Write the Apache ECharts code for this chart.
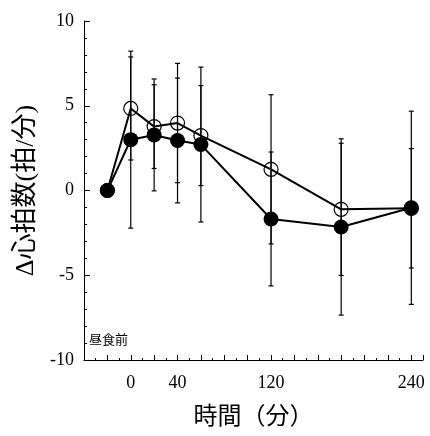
<!DOCTYPE html>
<html>
<head>
<meta charset="utf-8">
<script src="https://cdn.jsdelivr.net/npm/echarts@6/dist/echarts.min.js"></script>
<style>
  html, body { margin: 0; padding: 0; background: #fff; }
  #main { width: 430px; height: 436px; }
</style>
</head>
<body>
<div id="main"></div>
<script>
// time after lunch (min), -20 = before lunch
var times = [-20, 0, 20, 40, 60, 120, 180, 240];
// filled circles
var filledMean = [0, 3.0, 3.28, 2.95, 2.71, -1.68, -2.15, -1.02];
var filledSd = [null, 5.22, 3.3, 3.68, 4.57, 3.95, 5.2, 5.7];
// open circles
var openMean = [0, 4.84, 3.77, 3.98, 3.24, 1.25, -1.11, -1.05];
var openSd = [null, 3.04, 2.47, 3.52, 2.95, 4.4, 3.9, 3.52];
var xLabels = [0, 40, 120, 240];

window.onload = function() {
  var chart = echarts.init(document.getElementById('main'));

  function pairs(mean) {
    return times.map(function(t, i) { return [t, mean[i]]; });
  }
  function bars(mean, sd) {
    var out = [];
    times.forEach(function(t, i) {
      if (sd[i] != null) out.push([t, mean[i] - sd[i], mean[i] + sd[i]]);
    });
    return out;
  }
  function errorBar(params, api) {
    var x = api.value(0);
    var top = api.coord([x, api.value(2)]);
    var bot = api.coord([x, api.value(1)]);
    var w = 2.5;
    var st = { stroke: '#000', lineWidth: 1.2 };
    return {
      type: 'group',
      children: [
        { type: 'line', shape: { x1: top[0], y1: top[1], x2: bot[0], y2: bot[1] }, style: st },
        { type: 'line', shape: { x1: top[0] - w, y1: top[1], x2: top[0] + w, y2: top[1] }, style: st },
        { type: 'line', shape: { x1: bot[0] - w, y1: bot[1], x2: bot[0] + w, y2: bot[1] }, style: st }
      ]
    };
  }

  var op = {
    animation: false,
    grid: {
      left: 84,
      right: 7,
      top: 21,
      bottom: 76
    },
    xAxis: {
      type: 'value',
      min: -40,
      max: 250,
      interval: 20,
      name: '時間（分）',
      nameLocation: 'middle',
      nameGap: 43,
      nameTextStyle: {
        fontFamily: 'Noto Sans CJK JP',
        fontSize: 24,
        color: '#000'
      },
      axisLine: { onZero: false, lineStyle: { color: '#000', width: 1 } },
      axisTick: { inside: true, length: 5, lineStyle: { color: '#000' } },
      minorTick: { show: true, splitNumber: 2, length: 2, lineStyle: { color: '#000' } },
      splitLine: { show: false },
      axisLabel: {
        margin: 14,
        fontFamily: 'Liberation Serif',
        fontSize: 18,
        color: '#000',
        formatter: function(v) {
          return xLabels.indexOf(v) >= 0 ? String(v) : '';
        }
      }
    },
    yAxis: {
      type: 'value',
      min: -10,
      max: 10,
      interval: 5,
      name: 'Δ心拍数(拍/分)',
      nameLocation: 'middle',
      nameGap: 45,
      nameTextStyle: {
        fontFamily: "'Liberation Serif', 'Noto Sans CJK JP'",
        fontSize: 26,
        color: '#000'
      },
      axisLine: { show: true, onZero: false, lineStyle: { color: '#000', width: 1 } },
      axisTick: { show: true, inside: true, length: 6, lineStyle: { color: '#000' } },
      minorTick: { show: true, splitNumber: 5, length: 3, lineStyle: { color: '#000' } },
      splitLine: { show: false },
      axisLabel: {
        margin: 10,
        fontFamily: 'Liberation Serif',
        fontSize: 18,
        color: '#000'
      }
    },
    graphic: [{
      type: 'text',
      left: 89,
      top: 333,
      style: {
        text: '昼食前',
        fontFamily: 'Noto Sans CJK JP',
        fontSize: 13,
        fill: '#000'
      }
    }],
    series: [{
      type: 'custom',
      renderItem: errorBar,
      encode: { x: 0, y: [1, 2] },
      data: bars(filledMean, filledSd),
      z: 1
    }, {
      type: 'custom',
      renderItem: errorBar,
      encode: { x: 0, y: [1, 2] },
      data: bars(openMean, openSd),
      z: 1
    }, {
      name: 'open',
      type: 'line',
      data: pairs(openMean),
      symbol: 'circle',
      symbolSize: 14,
      lineStyle: { color: '#000', width: 2 },
      itemStyle: { color: 'rgba(0,0,0,0)', borderColor: '#000', borderWidth: 1.2 },
      z: 2
    }, {
      name: 'filled',
      type: 'line',
      data: pairs(filledMean),
      symbol: 'circle',
      symbolSize: 15,
      lineStyle: { color: '#000', width: 2 },
      itemStyle: { color: '#000' },
      z: 3
    }]
  };

  chart.setOption(op);
};
</script>
</body>
</html>
